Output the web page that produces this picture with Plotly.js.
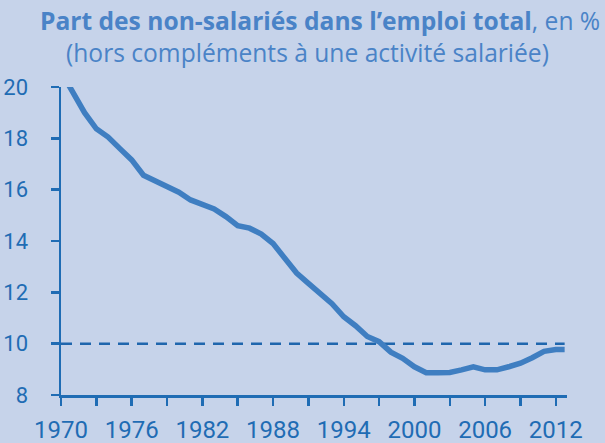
<!DOCTYPE html>
<html>
<head>
<meta charset="utf-8">
<script src="https://cdn.plot.ly/plotly-3.0.1.min.js"></script>
<style>html,body{margin:0;padding:0;background:#c6d3ea;}</style>
</head>
<body>
<div id="chart" style="width:605px;height:443px;"></div>
<script>
const years = [1970,1971,1972,1973,1974,1975,1976,1977,1978,1979,1980,1981,1982,1983,1984,1985,1986,1987,1988,1989,1990,1991,1992,1993,1994,1995,1996,1997,1998,1999,2000,2001,2002,2003,2004,2005,2006,2007,2008,2009,2010,2011,2012,2012.75];
const share = [20.6,19.84,19.0,18.37,18.05,17.6,17.16,16.56,16.35,16.1,15.9,15.6,15.42,15.25,14.95,14.6,14.5,14.27,13.9,13.3,12.75,12.35,11.95,11.56,11.05,10.7,10.28,10.08,9.67,9.43,9.10,8.87,8.87,8.88,8.98,9.10,8.98,8.98,9.10,9.24,9.45,9.70,9.77,9.77];
const refYears = [1970, 2012.75];
const refLevel = [10, 10];
const xTickVals = [1970,1973,1976,1979,1982,1985,1988,1991,1994,1997,2000,2003,2006,2009,2012];
const xTickText = ['1970','','1976','','1982','','1988','','1994','','2000','','2006','','2012'];
const yTickVals = [8,10,12,14,16,18,20];

const axisColor = '#1f6cb4';
const fam = 'Roboto, "Liberation Sans", sans-serif';
const titleFam = '"Open Sans", Roboto, sans-serif';

const traces = [
  {x: refYears, y: refLevel, mode: 'lines', line: {color: '#1f66ad', width: 2.5, dash: '11px,8px'}, hoverinfo: 'skip'},
  {x: years, y: share, mode: 'lines', line: {color: '#3f7ec1', width: 5.5}, hoverinfo: 'skip'}
];

const layout = {
  width: 605, height: 443,
  paper_bgcolor: '#c6d3ea', plot_bgcolor: '#c6d3ea',
  margin: {l: 61, r: 38, t: 87, b: 48},
  showlegend: false,
  xaxis: {
    range: [1970, 2012.95], showgrid: false, zeroline: false,
    showline: true, linecolor: axisColor, linewidth: 2.5,
    ticks: 'outside', ticklen: 8, tickwidth: 2.5, tickcolor: axisColor,
    tickmode: 'array', tickvals: xTickVals, ticktext: xTickText,
    tickfont: {family: fam, size: 24, color: axisColor}, ticklabelstandoff: 4
  },
  yaxis: {
    range: [8, 20], showgrid: false, zeroline: false,
    showline: true, linecolor: axisColor, linewidth: 2.5,
    ticks: 'outside', ticklen: 8, tickwidth: 2.5, tickcolor: axisColor,
    tickmode: 'array', tickvals: yTickVals,
    tickfont: {family: fam, size: 22, color: axisColor}, ticklabelstandoff: 18
  },
  annotations: [
    {xref: 'paper', yref: 'paper', x: 0.511, y: 1, yshift: 67, xanchor: 'center', yanchor: 'middle', showarrow: false,
     text: '<b>Part des non-salariés dans l’emploi total</b>, en %',
     font: {family: titleFam, size: 24.6, color: '#4a83c7'}},
    {xref: 'paper', yref: 'paper', x: 0.488, y: 1, yshift: 35, xanchor: 'center', yanchor: 'middle', showarrow: false,
     text: '(hors compléments à une activité salariée)',
     font: {family: titleFam, size: 24.6, color: '#4a83c7'}}
  ]
};

Plotly.newPlot('chart', traces, layout, {displayModeBar: false, staticPlot: true});
</script>
</body>
</html>
